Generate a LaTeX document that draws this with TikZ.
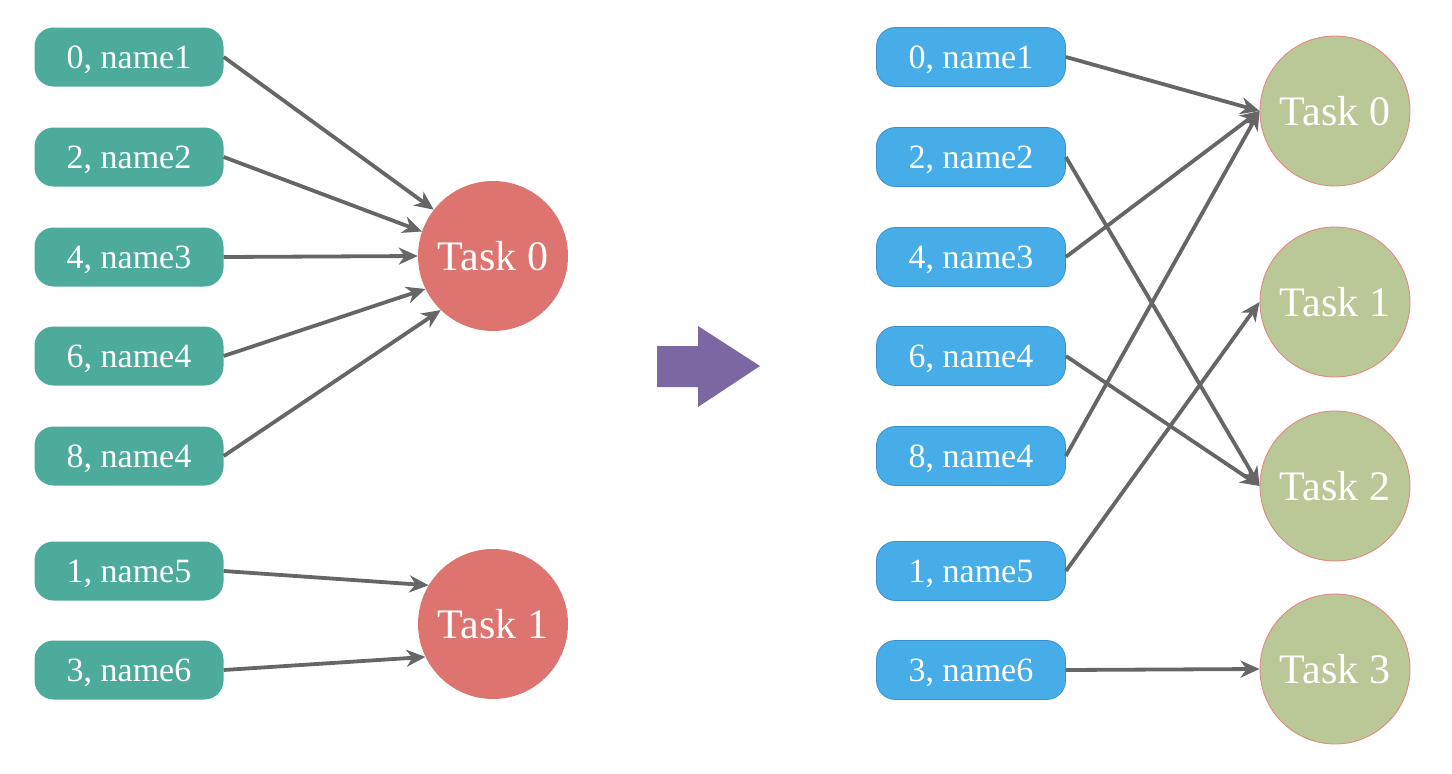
\documentclass[tikz,border=0pt]{standalone}
\usepackage{fontspec}
\setmainfont{Liberation Serif}
\usetikzlibrary{arrows.meta}
\definecolor{tealbox}{HTML}{4DAB9B}
\definecolor{bluebox}{HTML}{47ADE8}
\definecolor{blueedge}{HTML}{3A90CC}
\definecolor{redtask}{HTML}{DD7470}
\definecolor{greentask}{HTML}{BAC897}
\definecolor{greenedge}{HTML}{E08A82}
\definecolor{purplearrow}{HTML}{7B67A1}
\definecolor{conn}{HTML}{666666}
\tikzset{
  item/.style={rounded corners=19pt, minimum width=189pt, minimum height=59pt,
    inner sep=0pt, text=white, text depth=0pt, font=\fontsize{34}{36}\selectfont},
  leftitem/.style={item, fill=tealbox},
  rightitem/.style={item, fill=bluebox, draw=blueedge, line width=0.8pt},
  task/.style={circle, minimum size=150pt, inner sep=0pt, text=white,
    font=\fontsize{42}{44}\selectfont},
  redtaskstyle/.style={task, fill=redtask},
  greentaskstyle/.style={task, fill=greentask, draw=greenedge, line width=0.9pt},
  link/.style={draw=conn, line width=3.8pt,
    -{Stealth[length=19pt,width=17pt,inset=6pt]}},
}
\begin{document}
\begin{tikzpicture}[x=1pt,y=-1pt]
\useasboundingbox (0,0) rectangle (1452,774);
% left side
\node[leftitem] (l0) at (129,57) {0, name1};
\node[leftitem] (l2) at (129,157) {2, name2};
\node[leftitem] (l4) at (129,257) {4, name3};
\node[leftitem] (l6) at (129,356) {6, name4};
\node[leftitem] (l8) at (129,456) {8, name4};
\node[leftitem] (l1) at (129,571) {1, name5};
\node[leftitem] (l3) at (129,670) {3, name6};
\node[redtaskstyle] (lt0) at (493,256) {Task 0};
\node[redtaskstyle] (lt1) at (493,624) {Task 1};
\draw[link] (l0.east) -- (lt0.142);
\draw[link] (l2.east) -- (lt0.161);
\draw[link] (l4.east) -- (lt0.180);
\draw[link] (l6.east) -- (lt0.206);
\draw[link] (l8.east) -- (lt0.226);
\draw[link] (l1.east) -- (lt1.149);
\draw[link] (l3.east) -- (lt1.206);
% middle arrow
\fill[purplearrow] (657,346) -- (698,346) -- (698,326) -- (760,366)
  -- (698,407) -- (698,387) -- (657,387) -- cycle;
% right side
\node[rightitem] (r0) at (971,57) {0, name1};
\node[rightitem] (r2) at (971,157) {2, name2};
\node[rightitem] (r4) at (971,257) {4, name3};
\node[rightitem] (r6) at (971,356) {6, name4};
\node[rightitem] (r8) at (971,456) {8, name4};
\node[rightitem] (r1) at (971,571) {1, name5};
\node[rightitem] (r3) at (971,670) {3, name6};
\node[greentaskstyle] (rt0) at (1335,111) {Task 0};
\node[greentaskstyle] (rt1) at (1335,302) {Task 1};
\node[greentaskstyle] (rt2) at (1335,486) {Task 2};
\node[greentaskstyle] (rt3) at (1335,669) {Task 3};
\draw[link] (r0.east) -- (rt0.west);
\draw[link] (r2.east) -- (rt2.west);
\draw[link] (r4.east) -- (rt0.west);
\draw[link] (r6.east) -- (rt2.west);
\draw[link] (r8.east) -- (rt0.west);
\draw[link] (r1.east) -- (rt1.west);
\draw[link] (r3.east) -- (rt3.west);
\end{tikzpicture}
\end{document}
